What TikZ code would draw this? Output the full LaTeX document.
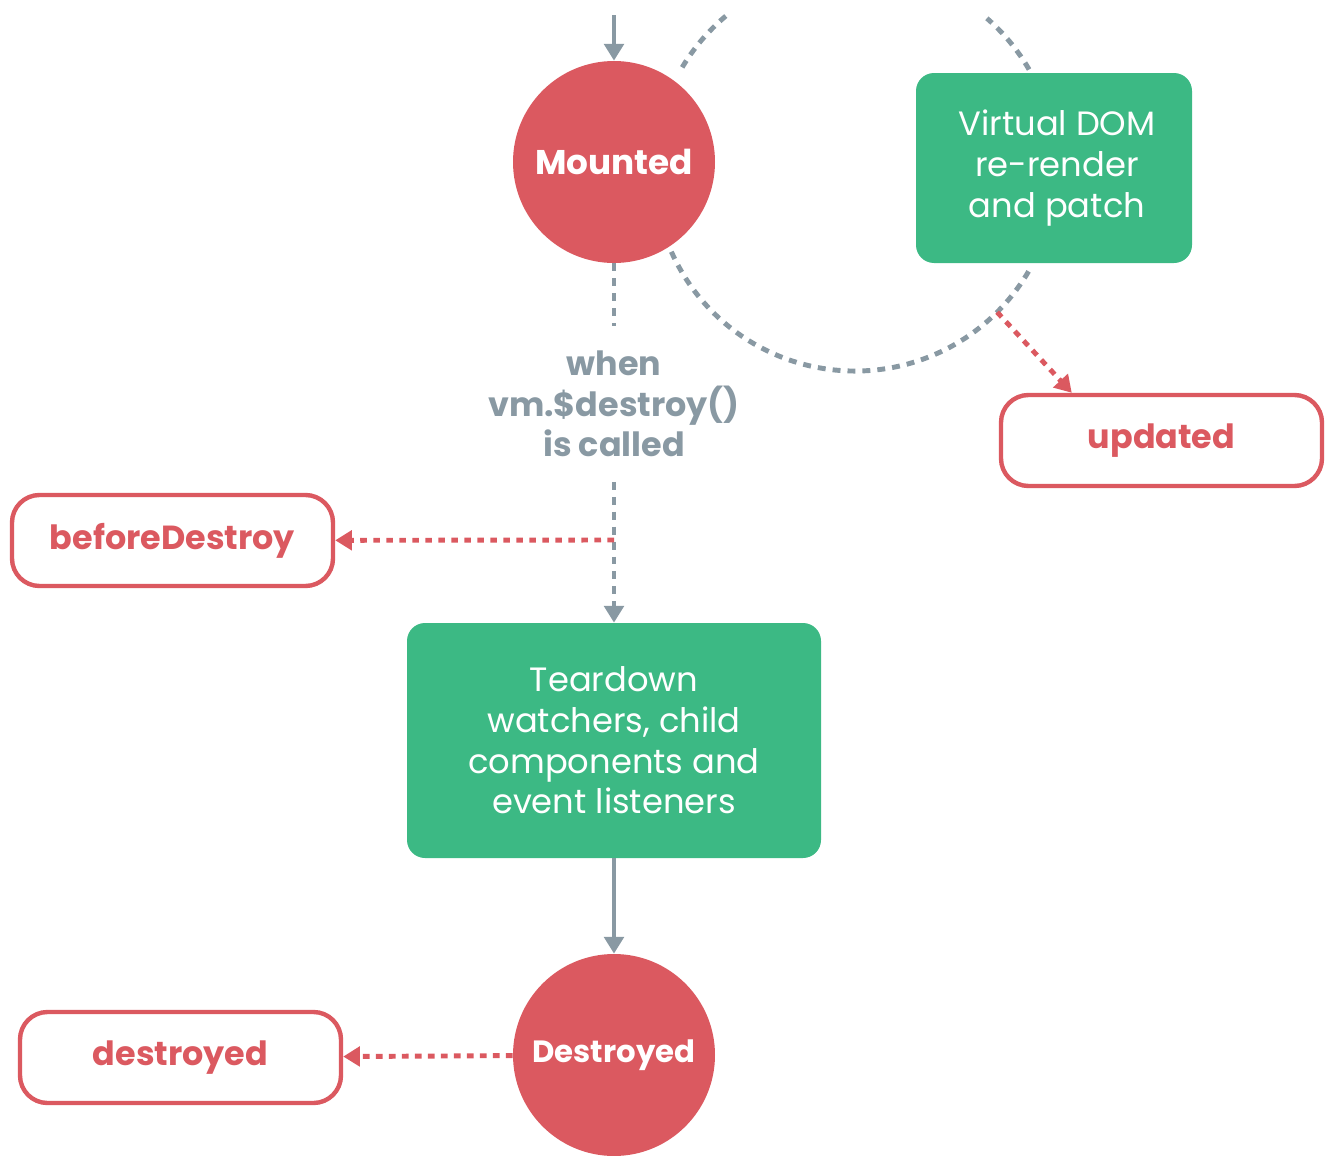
\documentclass[tikz,border=0pt]{standalone}
\usepackage{fontspec}
\setmainfont{Poppins}
\usetikzlibrary{arrows.meta}
\definecolor{hookred}{RGB}{219,89,96}
\definecolor{workgreen}{RGB}{60,185,132}
\definecolor{flowgray}{RGB}{137,153,163}

\begin{document}
\begin{tikzpicture}[
        state/.style={circle, fill=hookred, text=white, inner sep=0pt, minimum size=4.04cm, font=\bfseries\fontsize{19.5}{23}\selectfont},
        work/.style={rectangle, rounded corners=0.36cm, fill=workgreen, text=white, align=center, inner sep=0pt, font=\fontsize{19.2}{23.2}\selectfont},
        hook/.style={rectangle, rounded corners=0.55cm, draw=hookred, line width=2.5pt, fill=white, text=hookred, minimum width=6.42cm, minimum height=1.82cm, font=\bfseries\fontsize{19}{23}\selectfont},
        flow/.style={flowgray, line width=2.8pt, -{Triangle[width=11pt,length=9.5pt]}},
        gap/.style={dash pattern=on 4.5pt off 4pt},
        hookline/.style={hookred, line width=2.8pt, dash pattern=on 3.8pt off 3.6pt, -{Triangle[width=11pt,length=9.5pt]}},
        cycleline/.style={flowgray, line width=2.8pt, dash pattern=on 4.5pt off 4pt}
    ]
        \useasboundingbox (0, 0) rectangle (26.66, -23.12);

        \foreach \from/\to in {130/150, 204/331, 30/49}
            \draw[cycleline] (17.1, -3.4) ++(\from:4.02) arc[start angle=\from, end angle=\to, radius=4.02];
        \path (17.1, -3.4) ++(315:4.02) coordinate (patch);

        \node[state] (mounted) at (12.28, -3.24) {Mounted};
        \node[work, minimum width=5.52cm, minimum height=3.8cm] (rerender) at (21.08, -3.36) {\hspace*{0.12cm}Virtual DOM\\\hspace*{0.12cm}re-render\\\hspace*{0.12cm}and patch};
        \node[hook] (updated) at (23.23, -8.81) {updated};

        \node[text=flowgray, align=center, minimum height=3.1cm, font=\bfseries\fontsize{19}{23.2}\selectfont] (call) at (12.28, -8.08) {when\\vm.\$destroy()\\is called};
        \node[hook] (beforedestroy) at (3.45, -10.81) {beforeDestroy};
        \node[work, minimum width=8.28cm, minimum height=4.7cm] (teardown) at (12.28, -14.81) {Teardown\\watchers, child\\components and\\event listeners};

        \node[state, font=\bfseries\fontsize{17.5}{20}\selectfont] (destroyed) at (12.28, -21.1) {Destroyed};
        \node[hook] (destroyedhook) at (3.61, -21.15) {destroyed};

        \coordinate (entry) at (12.28, -0.3);
        \coordinate (branch) at (12.28, -10.8);

        \draw[flow] (entry) -- (mounted);
        \draw[flow, gap, -] (mounted) -- (call);
        \draw[flow, gap] (call) -- (teardown);
        \draw[hookline] (branch) -- (beforedestroy);
        \draw[hookline] (patch) -- (updated.152);
        \draw[flow] (teardown) -- (destroyed);
        \draw[hookline] (destroyed) -- (destroyedhook);
    \end{tikzpicture}
\end{document}
